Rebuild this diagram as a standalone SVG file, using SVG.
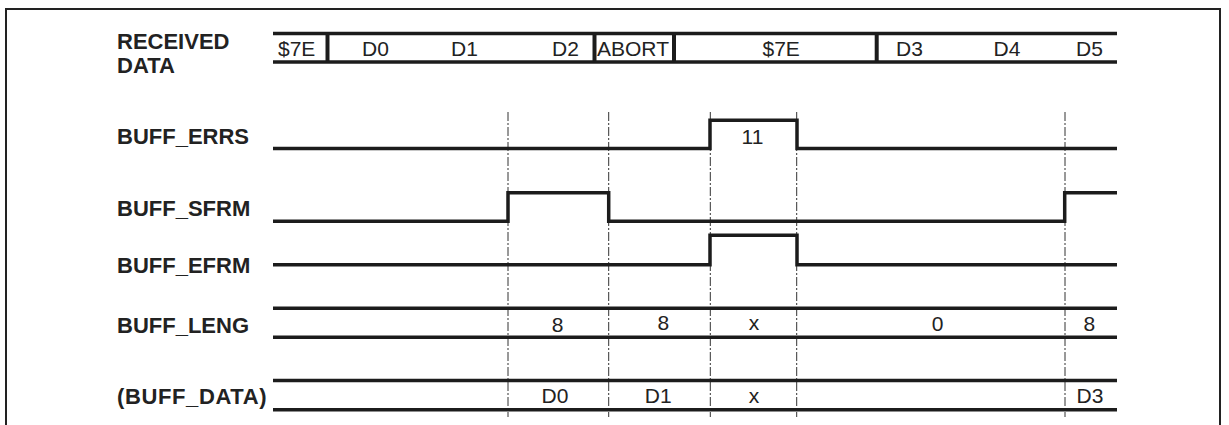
<svg xmlns="http://www.w3.org/2000/svg" width="1229" height="425" viewBox="0 0 1229 425">
<style>
.lbl{font-family:"Liberation Sans",Arial,sans-serif;font-weight:bold;font-size:22px;fill:#222}
.val{font-family:"Liberation Sans",Arial,sans-serif;font-size:21px;fill:#222}
.sig{fill:none;stroke:#1c1c1c;stroke-width:3.5;stroke-linejoin:miter}
.div{stroke:#1c1c1c;stroke-width:4}
.guide{stroke:#333;stroke-width:1;stroke-dasharray:9 2 2 2;fill:none}
.frame{fill:none;stroke:#222;stroke-width:2}
</style>
<rect width="1229" height="425" fill="#fff"/>
<path class="frame" d="M6,430 V9 H1220 V430"/>
<g id="connectors">
<line class="guide" x1="508" y1="112" x2="508" y2="417"/>
<line class="guide" x1="608.7" y1="112" x2="608.7" y2="417"/>
<line class="guide" x1="710.3" y1="112" x2="710.3" y2="417"/>
<line class="guide" x1="796.7" y1="112" x2="796.7" y2="417"/>
<line class="guide" x1="1065" y1="112" x2="1065" y2="417"/>
</g>
<g id="received-data">
<text class="lbl" x="117" y="49">RECEIVED</text>
<text class="lbl" x="117" y="73">DATA</text>
<line class="sig" x1="273" y1="33.5" x2="1117" y2="33.5"/>
<line class="sig" x1="273" y1="62" x2="1117" y2="62"/>
<line class="div" x1="327.5" y1="33.5" x2="327.5" y2="62"/>
<line class="div" x1="594.5" y1="33.5" x2="594.5" y2="62"/>
<line class="div" x1="674" y1="33.5" x2="674" y2="62"/>
<line class="div" x1="876.7" y1="33.5" x2="876.7" y2="62"/>
<text class="val" x="278" y="56">$7E</text>
<text class="val" x="362" y="56">D0</text>
<text class="val" x="451" y="56">D1</text>
<text class="val" x="552" y="56">D2</text>
<text class="val" x="597" y="56" textLength="72" lengthAdjust="spacingAndGlyphs">ABORT</text>
<text class="val" x="762.5" y="56">$7E</text>
<text class="val" x="896" y="56">D3</text>
<text class="val" x="993.5" y="56">D4</text>
<text class="val" x="1076" y="56">D5</text>
</g>
<g id="buff-errs">
<text class="lbl" x="117" y="143.5">BUFF_ERRS</text>
<path class="sig" d="M273,148.5 H710 V120.3 H797 V148.5 H1117"/>
<text class="val" x="752.5" y="144" text-anchor="middle">11</text>
</g>
<g id="buff-sfrm">
<text class="lbl" x="117" y="216">BUFF_SFRM</text>
<path class="sig" d="M273,221.3 H508 V192.8 H608.7 V221.3 H1064.7 V192.8 H1117"/>
</g>
<g id="buff-efrm">
<text class="lbl" x="117" y="272.5">BUFF_EFRM</text>
<path class="sig" d="M273,264.7 H710 V235.3 H797 V264.7 H1117"/>
</g>
<g id="buff-leng">
<text class="lbl" x="117" y="332.5">BUFF_LENG</text>
<line class="sig" x1="273" y1="308.3" x2="1117" y2="308.3"/>
<line class="sig" x1="273" y1="337.2" x2="1117" y2="337.2"/>
<text class="val" x="557.7" y="331.5" text-anchor="middle">8</text>
<text class="val" x="663.3" y="330" text-anchor="middle">8</text>
<text class="val" x="754" y="330" text-anchor="middle">x</text>
<text class="val" x="937.7" y="331" text-anchor="middle">0</text>
<text class="val" x="1089.3" y="331" text-anchor="middle">8</text>
</g>
<g id="buff-data">
<text class="lbl" x="117" y="403.5" textLength="149.5" lengthAdjust="spacing">(BUFF_DATA)</text>
<line class="sig" x1="273" y1="380.5" x2="1117" y2="380.5"/>
<line class="sig" x1="273" y1="409.8" x2="1117" y2="409.8"/>
<text class="val" x="555" y="403.3" text-anchor="middle">D0</text>
<text class="val" x="658.3" y="403.3" text-anchor="middle">D1</text>
<text class="val" x="754" y="403.3" text-anchor="middle">x</text>
<text class="val" x="1090" y="403.3" text-anchor="middle">D3</text>
</g>
</svg>
